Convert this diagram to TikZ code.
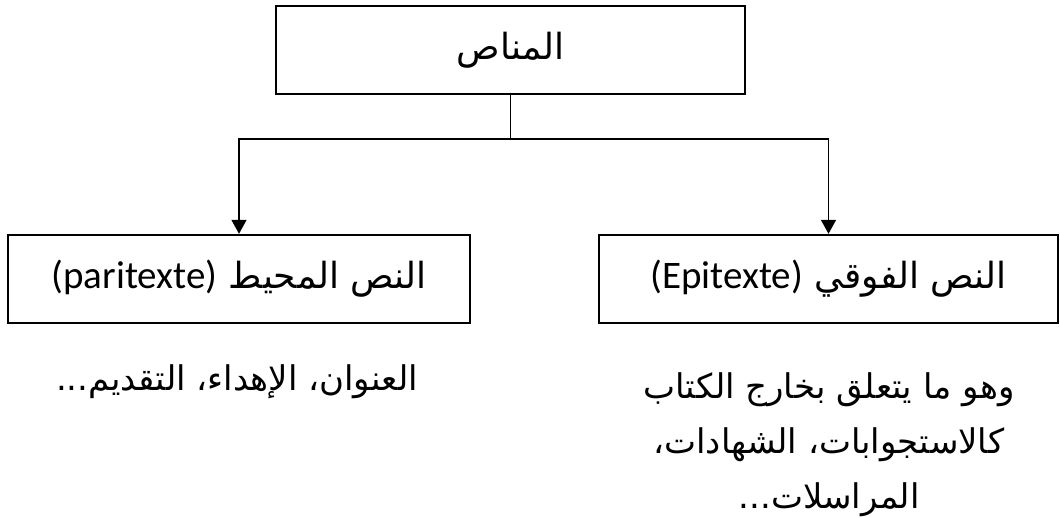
\documentclass[tikz,border=0pt]{standalone}
\usepackage{fontspec}
\usepackage{tikz}
\usetikzlibrary{arrows.meta}
\TeXXeTstate=1
\newfontfamily\arabicfont[Script=Arabic]{DejaVu Sans}
\newfontfamily\latinfont{Carlito}
\tikzset{>={Triangle[length=7pt,width=7.5pt]}}
\tikzset{
  box/.style={draw,line width=1.2pt,inner sep=0pt,minimum height=44pt,
    font=\arabicfont\fontsize{18}{22}\selectfont},
  note/.style={align=center,inner sep=0pt,
    font=\arabicfont\fontsize{17}{27.5}\selectfont},
  link/.style={line width=0.8pt}
}

\begin{document}
\begin{tikzpicture}[x=0.5pt,y=-0.5pt]
  \useasboundingbox (0,0) rectangle (1060,518);
  \node[box,minimum width=234.5pt] (manas) at (510.5,50) {\beginR المناص\endR};
  \node[box,minimum width=231pt] (para) at (239,279)
    {\beginR النص المحيط \beginL{\latinfont\fontsize{19.5}{22}\selectfont(paritexte)}\endL\endR};
  \node[box,minimum width=229.5pt] (epi) at (828.5,279)
    {\beginR النص الفوقي \beginL{\latinfont\fontsize{19.5}{22}\selectfont(Epitexte)}\endL\endR};
  \coordinate (split) at (510.5,139);
  \draw[link] (manas) -- (split);
  \draw[link,->] (split) -| (para);
  \draw[link,->] (split) -| (epi);
  \node[note] (titres) at (237,382) {\beginR العنوان، الإهداء، التقديم...\endR};
  \node[note] (hors) at (829,445)
    {\beginR وهو ما يتعلق بخارج الكتاب\endR\\
     \beginR كالاستجوابات، الشهادات،\endR\\
     \beginR المراسلات...\endR};
\end{tikzpicture}
\end{document}
